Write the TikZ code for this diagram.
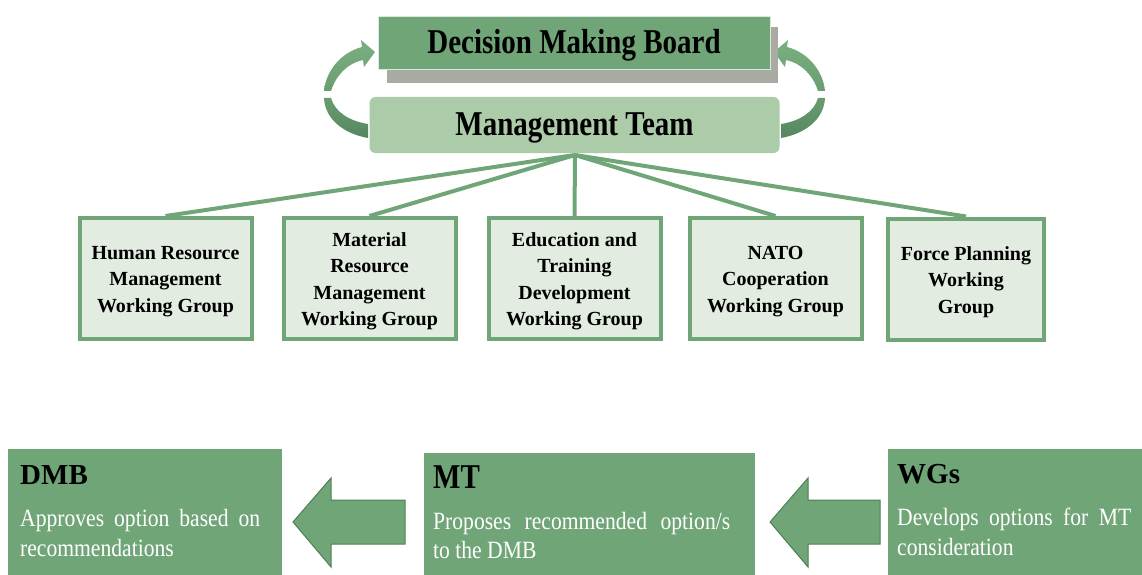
\documentclass[tikz,border=0pt]{standalone}
\usepackage{fontspec}
\setmainfont{Liberation Serif}
\definecolor{gmid}{HTML}{70A578}
\definecolor{gdark}{HTML}{4F7F56}
\definecolor{glight}{HTML}{ABCBA9}
\definecolor{gpale}{HTML}{E2ECE0}
\definecolor{gshadow}{HTML}{A9AAA2}
\definecolor{gupA}{HTML}{7AAF80}
\definecolor{gupB}{HTML}{6A9E71}
\definecolor{gloA}{HTML}{6A9C70}
\definecolor{gloB}{HTML}{568660}
\begin{document}
\begin{tikzpicture}[x=1pt,y=-1pt,
  wgbox/.style={draw=gmid,fill=gpale,line width=4pt,minimum width=172pt,minimum height=121pt,inner sep=0pt},
  wgtext/.style={align=center,inner sep=0pt,font=\fontsize{20}{26.5}\selectfont\bfseries},
  conn/.style={draw=gmid,line width=4pt},
  infobox/.style={fill=gmid,inner sep=0pt},
  blockarrow/.style={fill=gmid,draw=gdark,line width=1pt},
  ttl/.style={anchor=base west,inner sep=0pt,font=\fontsize{29}{30}\selectfont\bfseries},
  body/.style={anchor=base west,inner sep=0pt,text=white,font=\fontsize{21.6}{26}\selectfont},
  uparc/.style={top color=gupA,bottom color=gupB,draw=none},
  loarc/.style={top color=gloA,bottom color=gloB,draw=none}]
\useasboundingbox (0,0) rectangle (1142,575);
% curved arrows
\path[uparc] (324,91) .. controls (326,70) and (342,52) .. (362,47) -- (361,40) -- (375,52) -- (364,67) -- (363,60) .. controls (348,63) and (336,75) .. (331,91) -- cycle;
\path[loarc] (324,98) .. controls (325,120) and (345,134) .. (368,138) -- (368,124) .. controls (349,121) and (335,112) .. (331,98) -- cycle;
\begin{scope}[xshift=1149pt,xscale=-1]
\path[uparc] (324,91) .. controls (326,70) and (342,52) .. (362,47) -- (361,40) -- (375,52) -- (364,67) -- (363,60) .. controls (348,63) and (336,75) .. (331,91) -- cycle;
\path[loarc] (324,98) .. controls (325,120) and (345,134) .. (368,138) -- (368,124) .. controls (349,121) and (335,112) .. (331,98) -- cycle;
\end{scope}
% DMB
\fill[gshadow] (387,27) rectangle (778,83);
\node[fill=gmid,draw=white!75!gmid,line width=1pt,minimum width=392pt,minimum height=53pt,inner sep=0pt] (dmb) at (574,43.5) {};
\node[inner sep=0pt,font=\fontsize{29}{30}\selectfont\bfseries] (dmbt) at ([yshift=-2pt]dmb.center) {\scalebox{1}[1.2]{Decision Making Board}};
% WG boxes
\node[wgbox] (wg1) at (165.5,278.5) {};
\node[wgbox] (wg2) at (369.5,278.5) {};
\node[wgbox] (wg3) at (574.5,278.5) {};
\node[wgbox] (wg4) at (775.5,278.5) {};
\node[wgbox,minimum width=156pt] (wg5) at (966,279) {};
\node[wgtext] (wg1t) at ([yshift=-3pt]wg1.center) {Human Resource\\Management\\Working Group};
\node[wgtext] (wg2t) at ([yshift=-3pt]wg2.center) {Material\\Resource\\Management\\Working Group};
\node[wgtext] (wg3t) at ([yshift=-3pt]wg3.center) {Education and\\Training\\Development\\Working Group};
\node[wgtext] (wg4t) at ([yshift=-3pt]wg4.center) {NATO\\Cooperation\\Working Group};
\node[wgtext] (wg5t) at ([yshift=-3pt]wg5.center) {Force Planning\\Working\\Group};
\coordinate (hub) at (575,155);
\foreach \w in {wg1,wg2,wg3,wg4,wg5} \draw[conn] (hub) -- (\w.north);
% MT
\node[fill=glight,rounded corners=6pt,minimum width=410pt,minimum height=56pt,inner sep=0pt] (mt) at (574.5,125) {};
\node[inner sep=0pt,font=\fontsize{29}{30}\selectfont\bfseries] (mtt) at ([yshift=-3pt]mt.center) {\scalebox{1}[1.2]{Management Team}};
% bottom row
\node[infobox,minimum width=274pt,minimum height=126pt] (bdmb) at (145,512) {};
\node[infobox,minimum width=331pt,minimum height=122pt] (bmt) at (589.5,514) {};
\node[infobox,minimum width=254pt,minimum height=126pt] (bwg) at (1015,512) {};
\node[ttl] (t1) at (20,484) {DMB};
\node[body] (l1a) at (20,526) {\scalebox{1}[1.15]{\makebox[240pt][s]{Approves option based on}}};
\node[body] (l1b) at (20,556) {\scalebox{1}[1.15]{recommendations}};
\node[ttl] (t2) at (433,488) {\scalebox{1}[1.2]{MT}};
\node[body] (l2a) at (433,529) {\scalebox{1}[1.15]{\makebox[297pt][s]{Proposes recommended option/s}}};
\node[body] (l2b) at (433,558) {\scalebox{1}[1.15]{to the DMB}};
\node[ttl] (t3) at (897,483) {WGs};
\node[body] (l3a) at (897,525) {\scalebox{1}[1.15]{\makebox[234pt][s]{Develops options for MT}}};
\node[body] (l3b) at (897,555) {\scalebox{1}[1.15]{consideration}};
% block arrows
\path[blockarrow] (405,500) -- (331,500) -- (331,478) -- (293,522) -- (331,567) -- (331,544) -- (405,544) -- cycle;
\path[blockarrow] (880,500) -- (808,500) -- (808,478) -- (770,522) -- (808,567) -- (808,544) -- (880,544) -- cycle;
\end{tikzpicture}
\end{document}
